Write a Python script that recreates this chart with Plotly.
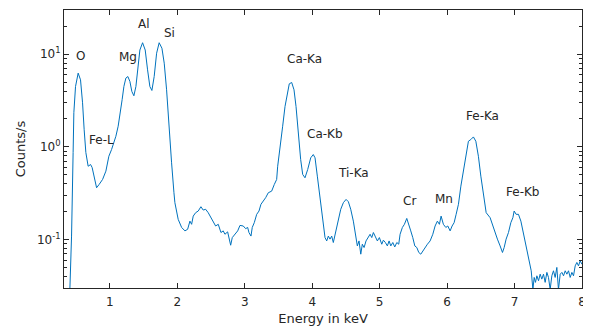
import math
import plotly.graph_objects as go

energy_kev = [
    0.40, 0.432, 0.455, 0.466, 0.491, 0.530, 0.565, 0.595, 0.619, 0.644,
    0.678, 0.714, 0.737, 0.767, 0.803, 0.841, 0.892, 0.941, 0.985, 1.025,
    1.049, 1.089, 1.123, 1.148, 1.182, 1.208, 1.237, 1.267, 1.297, 1.326,
    1.356, 1.386, 1.415, 1.445, 1.485, 1.524, 1.559, 1.593, 1.623, 1.657,
    1.693, 1.731, 1.772, 1.806, 1.841, 1.875, 1.915, 1.950,
    1.964, 2.013, 2.064, 2.113, 2.153, 2.187, 2.212, 2.236, 2.272, 2.310,
    2.350, 2.384, 2.420, 2.458, 2.499, 2.533, 2.568, 2.607, 2.647, 2.681,
    2.706, 2.746, 2.770, 2.791, 2.815, 2.855, 2.895, 2.929, 2.978, 3.013,
    3.043, 3.062, 3.092, 3.111, 3.141, 3.177, 3.211, 3.240, 3.275, 3.310,
    3.349, 3.399, 3.438, 3.473,
    3.488, 3.522, 3.562, 3.597, 3.631, 3.660, 3.696, 3.730, 3.760, 3.794,
    3.829, 3.859, 3.893, 3.933, 3.978, 4.016, 4.042, 4.076, 4.105,
    4.155, 4.190, 4.215, 4.239, 4.264, 4.289, 4.313, 4.338, 4.364, 4.387,
    4.423, 4.462, 4.502, 4.536, 4.571, 4.610, 4.646, 4.669, 4.694, 4.720,
    4.743, 4.769, 4.798, 4.832, 4.858, 4.883, 4.907, 4.932, 4.966, 4.996,
    5.031, 5.055, 5.085, 5.114, 5.140, 5.165, 5.195, 5.224, 5.254, 5.283,
    5.303, 5.337, 5.367, 5.402, 5.432, 5.461, 5.491, 5.521, 5.551, 5.580,
    5.610, 5.640, 5.674, 5.708, 5.748, 5.788, 5.822, 5.856, 5.886, 5.911,
    5.945, 5.981, 6.010, 6.045, 6.074, 6.104, 6.134, 6.168,
    6.204, 6.242, 6.282, 6.316, 6.352, 6.390, 6.426, 6.464, 6.500, 6.539, 6.579,
    6.638, 6.678, 6.712, 6.746, 6.786, 6.821, 6.846, 6.875, 6.910, 6.945,
    6.975, 6.994, 7.024, 7.058, 7.094, 7.123, 7.157, 7.192, 7.221, 7.247,
    7.272, 7.291, 7.310, 7.331, 7.355, 7.380, 7.404, 7.429, 7.454, 7.479,
    7.503, 7.528, 7.553, 7.577, 7.602, 7.627, 7.651, 7.677, 7.702, 7.726,
    7.751, 7.776, 7.800, 7.825, 7.850, 7.874, 7.899, 7.924, 7.948, 7.973, 8.0,
]

counts_per_s = [
    0.020, 0.109, 0.869, 2.34, 4.48, 6.25, 5.29, 2.99, 1.53, 0.869,
    0.618, 0.645, 0.599, 0.483, 0.362, 0.393, 0.445, 0.547, 0.792, 0.935,
    1.06, 1.30, 1.67, 2.13, 3.23, 4.48, 5.52, 5.74, 5.08, 3.96,
    3.56, 4.48, 7.36, 11.1, 13.3, 11.1, 6.78, 4.48, 4.06, 5.74,
    10.25, 13.3, 11.6, 8.0, 4.13, 1.67, 0.673, 0.320,
    0.250, 0.165, 0.135, 0.124, 0.129, 0.158, 0.146, 0.179, 0.195, 0.203,
    0.226, 0.208, 0.212, 0.195, 0.172, 0.158, 0.140, 0.146, 0.119, 0.124,
    0.114, 0.121, 0.101, 0.0868, 0.105, 0.114, 0.124, 0.142, 0.140, 0.131,
    0.135, 0.119, 0.109, 0.135, 0.152, 0.187, 0.203, 0.240, 0.260, 0.283,
    0.320, 0.333, 0.393, 0.445,
    0.618, 0.935, 1.67, 2.73, 3.81, 4.79, 4.95, 4.13, 2.73, 1.41,
    0.730, 0.504, 0.464, 0.570, 0.762, 0.826, 0.762, 0.483, 0.320,
    0.158, 0.105, 0.0966, 0.109, 0.101, 0.109, 0.0929, 0.114, 0.135, 0.172,
    0.212, 0.250, 0.271, 0.256, 0.212, 0.158, 0.109, 0.0853, 0.0966, 0.0695,
    0.089, 0.082, 0.0966, 0.105, 0.114, 0.105, 0.119, 0.109, 0.0966, 0.105,
    0.089, 0.0984, 0.0929, 0.0853, 0.0966, 0.0853, 0.0929, 0.0832, 0.0929, 0.089,
    0.114, 0.135, 0.146, 0.169, 0.140, 0.124, 0.105, 0.0853, 0.082, 0.0725,
    0.0695, 0.0754, 0.082, 0.089, 0.0966, 0.114, 0.140, 0.158, 0.146, 0.179,
    0.146, 0.135, 0.140, 0.124, 0.140, 0.152, 0.187, 0.240,
    0.377, 0.570, 0.862, 1.15, 1.20, 1.28, 1.15, 0.792, 0.483, 0.294, 0.195,
    0.172, 0.140, 0.119, 0.101, 0.0853, 0.0725, 0.082, 0.101, 0.119, 0.152,
    0.172, 0.203, 0.187, 0.187, 0.158, 0.124, 0.0929, 0.0667, 0.0543, 0.0460,
    0.029, 0.039, 0.0345, 0.0406, 0.0359, 0.0423, 0.0374, 0.0423, 0.0345, 0.0442,
    0.039, 0.029, 0.0406, 0.0460, 0.039, 0.050, 0.029, 0.0423, 0.0442, 0.0406,
    0.0460, 0.0423, 0.0460, 0.039, 0.0442, 0.0406, 0.052, 0.0566, 0.052, 0.0589, 0.054,
]

peak_labels = ["O", "Fe-L", "Mg", "Al", "Si", "Ca-Ka", "Ca-Kb", "Ti-Ka", "Cr", "Mn", "Fe-Ka", "Fe-Kb"]
label_x = [0.570, 0.877, 1.272, 1.509, 1.880, 3.893, 4.190, 4.610, 5.436, 5.955, 6.524, 7.117]
label_y = [9.6, 1.20, 9.3, 21.2, 16.8, 8.84, 1.38, 0.525, 0.260, 0.276, 2.13, 0.328]

x_ticks = [1, 2, 3, 4, 5, 6, 7, 8]
y_ticks = [0.1, 1, 10]
y_tick_text = ["10<sup>-1</sup>", "10<sup>0</sup>", "10<sup>1</sup>"]
y_minor_ticks = [0.04, 0.05, 0.06, 0.07, 0.08, 0.09,
                 0.2, 0.3, 0.4, 0.5, 0.6, 0.7, 0.8, 0.9,
                 2, 3, 4, 5, 6, 7, 8, 9, 20, 30]

assert len(energy_kev) == len(counts_per_s)

axis_color = "#262626"
font_family = "DejaVu Sans"

fig = go.Figure()
fig.add_trace(go.Scatter(x=energy_kev, y=counts_per_s, mode="lines",
                         line=dict(color="#0072BD", width=1), showlegend=False))

for t, lx, ly in zip(peak_labels, label_x, label_y):
    fig.add_annotation(x=lx, y=math.log10(ly), yref="y", xref="x", text=t, showarrow=False,
                       font=dict(family=font_family, size=12, color=axis_color),
                       xanchor="center", yanchor="middle")

# page body has an 8px margin, so the figure is 8px smaller than the window
fig.update_layout(
    width=583, height=320,
    margin=dict(l=56, r=9, t=2, b=40),
    paper_bgcolor="white", plot_bgcolor="white",
    font=dict(family=font_family, size=12, color=axis_color),
)
fig.update_xaxes(
    range=[0.32, 8], tickvals=x_ticks, ticks="inside", ticklen=5, tickwidth=1,
    tickcolor=axis_color, showline=True, linecolor=axis_color, linewidth=1,
    mirror="allticks", showgrid=False, zeroline=False, automargin=False,
    ticklabelstandoff=3,
    title=dict(text="Energy in keV", standoff=5, font=dict(size=13)),
    tickfont=dict(size=12),
)
fig.update_yaxes(
    type="log", range=[-1.523, 1.477], tickvals=y_ticks, ticktext=y_tick_text,
    ticks="inside", ticklen=5, tickwidth=1, tickcolor=axis_color,
    showline=True, linecolor=axis_color, linewidth=1, mirror="allticks",
    showgrid=False, zeroline=False, automargin=False,
    minor=dict(tickmode="array", tickvals=y_minor_ticks, ticks="inside", ticklen=3,
               tickcolor=axis_color, showgrid=False),
    title=dict(text="Counts/s", standoff=8, font=dict(size=13)),
    tickfont=dict(size=12),
)

fig.write_html("out.html")
